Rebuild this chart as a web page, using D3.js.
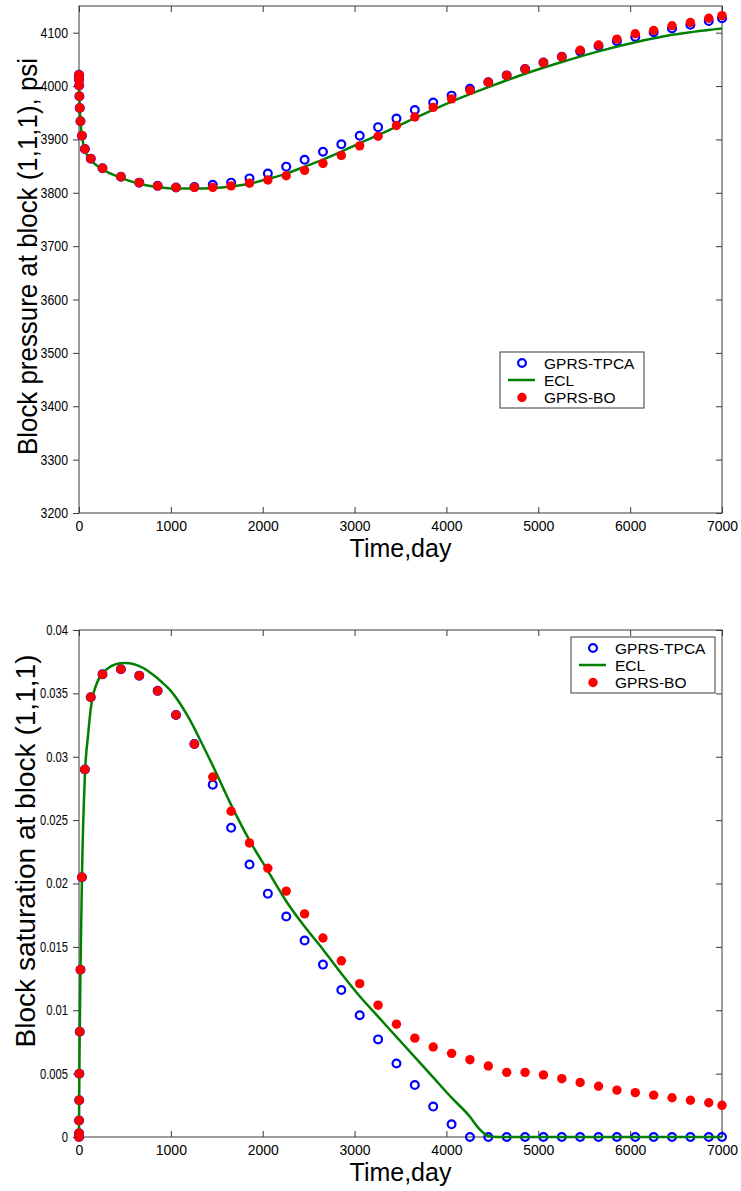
<!DOCTYPE html>
<html>
<head>
<meta charset="utf-8">
<script src="https://cdn.jsdelivr.net/npm/d3@7"></script>
<style>
body { margin: 0; background: #fff; }
svg { display: block; font-family: "Liberation Sans", Arial, sans-serif; }
</style>
</head>
<body>
<div id="chart"></div>
<script>
// report times (days) shared by the two simulators
var days = [0, 0.5, 1, 2, 4, 8, 16, 32, 64, 128, 256, 456, 656, 856, 1056, 1256, 1456, 1656,
    1856, 2056, 2256, 2456, 2656, 2856, 3056, 3256, 3456, 3656, 3856, 4056, 4256, 4456,
    4656, 4856, 5056, 5256, 5456, 5656, 5856, 6056, 6256, 6456, 6656, 6856, 7000];

// block pressure, psi
var pressTPCA = [4021, 4018, 4012, 4001, 3981, 3959, 3934, 3907, 3882, 3864, 3846, 3830, 3819, 3813,
    3810, 3811, 3815, 3819, 3827, 3836, 3849, 3862, 3877, 3891, 3907, 3923, 3939, 3955,
    3969, 3982, 3995, 4007, 4020, 4032, 4044, 4055, 4065, 4075, 4084, 4092, 4101, 4108,
    4115, 4122, 4127];
var pressBO = [4021, 4018, 4012, 4001, 3981, 3959, 3934, 3907, 3882, 3864, 3846, 3830, 3819, 3813,
    3810, 3810, 3810, 3813, 3818, 3824, 3832, 3842, 3855, 3870, 3888, 3906, 3926, 3942,
    3960, 3976, 3992, 4007, 4020, 4032, 4044, 4055, 4067, 4077, 4088, 4098, 4104, 4113,
    4119, 4127, 4132];
var eclPressDays = [0, 1, 2, 4, 8, 16, 32, 64, 128, 256, 456, 656, 856, 1056, 1256, 1456, 1656, 1856,
    2056, 2256, 2456, 2656, 2856, 3056, 3256, 3656, 4056, 4456, 4856, 5256, 5656, 6056, 6456, 7000];
var eclPress = [4020, 4012, 4001, 3981, 3959, 3934, 3906, 3880, 3862, 3844, 3828, 3817, 3811, 3808,
    3808, 3809, 3812, 3817, 3826, 3836, 3849, 3862, 3877, 3893, 3908, 3940, 3971, 3998,
    4023, 4045, 4065, 4082, 4096, 4108];

// block saturation
var satTPCA = [0, 0.0003, 0.0013, 0.0029, 0.005, 0.0083, 0.0132, 0.0205, 0.029, 0.0347, 0.0365,
    0.0369, 0.0364, 0.0352, 0.0333, 0.031, 0.0278, 0.0244, 0.0215, 0.0192, 0.0174, 0.0155,
    0.0136, 0.0116, 0.0096, 0.0077, 0.0058, 0.0041, 0.0024, 0.001, 0, 0, 0, 0, 0, 0, 0, 0,
    0, 0, 0, 0, 0, 0, 0];
var satBO = [0, 0.0003, 0.0013, 0.0029, 0.005, 0.0083, 0.0132, 0.0205, 0.029, 0.0347, 0.0365,
    0.0369, 0.0364, 0.0352, 0.0333, 0.031, 0.0284, 0.0257, 0.0232, 0.0212, 0.0194, 0.0176,
    0.0157, 0.0139, 0.0121, 0.0104, 0.0089, 0.0078, 0.0071, 0.0066, 0.0061, 0.0056, 0.0051,
    0.0051, 0.0049, 0.0046, 0.0043, 0.004, 0.0037, 0.0035, 0.0033, 0.0031, 0.0029, 0.0027, 0.0025];
var eclSatDays = [0, 1, 2, 4, 8, 16, 32, 64, 100, 128, 200, 300, 400, 500, 600, 700, 800, 900, 1000,
    1100, 1200, 1300, 1456, 1656, 1856, 2056, 2256, 2456, 2656, 2856, 3056, 3256, 3456,
    3656, 3856, 4056, 4256, 4350, 4450, 4550, 5000, 6000, 7000];
var eclSat = [0, 0.0013, 0.0029, 0.005, 0.0083, 0.0132, 0.0205, 0.0285, 0.0318, 0.0338, 0.0359,
    0.0369, 0.0373, 0.0374, 0.0373, 0.037, 0.0365, 0.0359, 0.0352, 0.0342, 0.033, 0.0316,
    0.0293, 0.0262, 0.0234, 0.021, 0.0186, 0.0166, 0.0148, 0.0129, 0.0111, 0.0095, 0.0079,
    0.0063, 0.0047, 0.0031, 0.0016, 0.0007, 0.0001, 0, 0, 0, 0];

// ticks and labels
var dayTicks = [0, 1000, 2000, 3000, 4000, 5000, 6000, 7000];
var pressTicks = [3200, 3300, 3400, 3500, 3600, 3700, 3800, 3900, 4000, 4100];
var satTicks = [0, 0.005, 0.01, 0.015, 0.02, 0.025, 0.03, 0.035, 0.04];
var seriesNames = ["GPRS-TPCA", "ECL", "GPRS-BO"];

var axisColor = "#3a3a3a";

var svg = d3.select("#chart")
    .append("svg")
    .attr("width", 741)
    .attr("height", 1191);

// one panel = box, ticks on all sides, three series and a legend
function drawPanel(p) {
    var x = d3.scaleLinear().domain([0, 7000]).range([p.left, p.right]);
    var y = d3.scaleLinear().domain(p.yDomain).range([p.bottom, p.top]);
    var g = svg.append("g");

    g.append("rect")
        .attr("x", p.left).attr("y", p.top)
        .attr("width", p.right - p.left).attr("height", p.bottom - p.top)
        .attr("fill", "none").attr("stroke", axisColor).attr("stroke-width", 1);

    var xb = g.append("g")
        .attr("transform", `translate(0,${p.bottom})`)
        .call(d3.axisBottom(x).tickValues(dayTicks).tickSizeInner(-6).tickSizeOuter(0)
            .tickPadding(8).tickFormat(d3.format("d")));
    g.append("g")
        .attr("transform", `translate(0,${p.top})`)
        .call(d3.axisTop(x).tickValues(dayTicks).tickSizeInner(-6).tickSizeOuter(0).tickFormat(""));
    var yl = g.append("g")
        .attr("transform", `translate(${p.left},0)`)
        .call(d3.axisLeft(y).tickValues(p.yTicks).tickSizeInner(6).tickSizeOuter(0)
            .tickPadding(5).tickFormat(p.yFormat));
    g.append("g")
        .attr("transform", `translate(${p.right},0)`)
        .call(d3.axisRight(y).tickValues(p.yTicks).tickSizeInner(-6).tickSizeOuter(0).tickFormat(""));

    g.selectAll(".domain").remove();
    g.selectAll(".tick line").attr("stroke", axisColor);
    xb.selectAll("text").attr("font-size", 14).attr("fill", "#000");
    // y tick labels are a bit narrower in the original
    yl.selectAll("text")
        .attr("font-size", 14).attr("fill", "#000")
        .attr("transform", `scale(${p.ySquash},1)`)
        .attr("x", -11 / p.ySquash);

    // axis titles
    g.append("text")
        .attr("x", (p.left + p.right) / 2)
        .attr("y", p.bottom + 44)
        .attr("text-anchor", "middle")
        .attr("font-size", 25)
        .text("Time,day");
    g.append("text")
        .attr("transform", `translate(${p.labelX},${p.labelY}) rotate(-90)`)
        .attr("text-anchor", "middle")
        .attr("font-size", 28)
        .attr("textLength", p.labelLen)
        .attr("lengthAdjust", "spacingAndGlyphs")
        .text(p.label);

    // GPRS-TPCA open circles
    g.append("g").selectAll("circle")
        .data(days)
        .enter()
        .append("circle")
        .attr("cx", d => x(d))
        .attr("cy", (d, i) => y(p.tpca[i]))
        .attr("r", 3.9)
        .attr("fill", "none")
        .attr("stroke", "#0000ff")
        .attr("stroke-width", 2.2);

    // ECL line
    var line = d3.line()
        .x((d, i) => x(p.eclDays[i]))
        .y(d => y(d))
        .curve(d3.curveMonotoneX);
    g.append("path")
        .datum(p.ecl)
        .attr("d", line)
        .attr("fill", "none")
        .attr("stroke", "#008000")
        .attr("stroke-width", 2.5)
        .attr("stroke-linejoin", "round");

    // GPRS-BO filled dots
    g.append("g").selectAll("circle")
        .data(days)
        .enter()
        .append("circle")
        .attr("cx", d => x(d))
        .attr("cy", (d, i) => y(p.bo[i]))
        .attr("r", 4.7)
        .attr("fill", "#ff0000");

    // legend box
    var lg = g.append("g").attr("transform", `translate(${p.legX},${p.legY})`);
    lg.append("rect")
        .attr("width", 144).attr("height", 56)
        .attr("fill", "#fff").attr("stroke", axisColor).attr("stroke-width", 1);
    var rows = [11, 28, 45.5];
    lg.append("circle").attr("cx", 22).attr("cy", rows[0]).attr("r", 3.9)
        .attr("fill", "none").attr("stroke", "#0000ff").attr("stroke-width", 2.2);
    lg.append("line").attr("x1", 8).attr("x2", 35).attr("y1", rows[1]).attr("y2", rows[1])
        .attr("stroke", "#008000").attr("stroke-width", 2.5);
    lg.append("circle").attr("cx", 22).attr("cy", rows[2]).attr("r", 4.7).attr("fill", "#ff0000");
    lg.selectAll("text.leg")
        .data(seriesNames)
        .enter()
        .append("text")
        .attr("class", "leg")
        .attr("x", 44)
        .attr("y", (d, i) => rows[i] + 5.5)
        .attr("font-size", 15.5)
        .text(d => d);
}

drawPanel({
    left: 79, right: 722, top: 6, bottom: 513,
    yDomain: [3200, 4150], yTicks: pressTicks, yFormat: d3.format("d"), ySquash: 0.88,
    tpca: pressTPCA, bo: pressBO, eclDays: eclPressDays, ecl: eclPress,
    label: "Block pressure at block (1,1,1), psi", labelX: 36.5, labelY: 256.5, labelLen: 397,
    legX: 500, legY: 352
});

drawPanel({
    left: 79, right: 722, top: 630, bottom: 1137,
    yDomain: [0, 0.04], yTicks: satTicks, yFormat: d => d3.format("")(+d.toFixed(3)), ySquash: 0.8,
    tpca: satTPCA, bo: satBO, eclDays: eclSatDays, ecl: eclSat,
    label: "Block saturation at block (1,1,1)", labelX: 35, labelY: 851, labelLen: 393,
    legX: 571, legY: 637
});
</script>
</body>
</html>
